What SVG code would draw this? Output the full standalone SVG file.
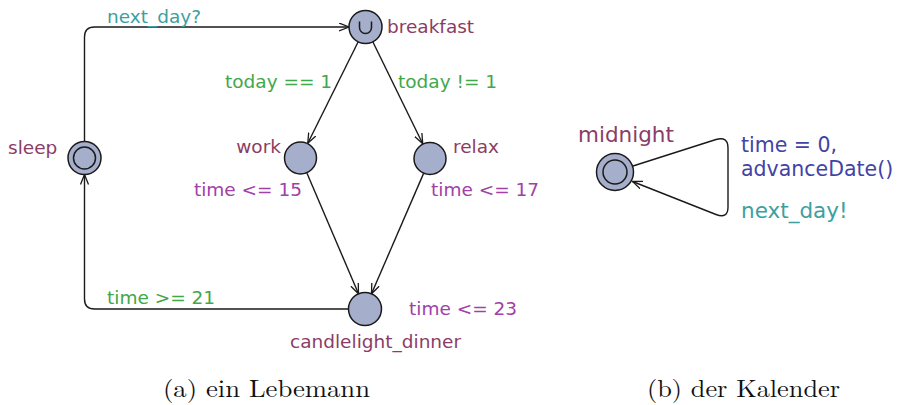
<svg xmlns="http://www.w3.org/2000/svg" width="903" height="405" viewBox="0 0 903 405">
<style>
.loc{fill:#a5aecb;stroke:#1a1a1a;stroke-width:1.5}
.inner{fill:none;stroke:#1a1a1a;stroke-width:1.5}
.edge{fill:none;stroke:#1a1a1a;stroke-width:1.4}
text{font-family:"DejaVu Sans",sans-serif;font-size:18.5px}
.name{fill:#8b3c66}
.guard{fill:#40a848}
.inv{fill:#a040a8}
.sync{fill:#3da0a0}
.upd{fill:#4343a6}
.big{font-size:21.5px}
.upd.big{font-size:20.5px}
.cap{font-family:"Latin Modern Roman","Liberation Serif",serif;font-size:24px;fill:#111}
</style>
<defs>
<marker id="arr" markerUnits="userSpaceOnUse" markerWidth="12" markerHeight="10" refX="10" refY="4.5" orient="auto">
<path d="M0,0.5 L10,4.5 L0,8.5" fill="none" stroke="#1a1a1a" stroke-width="1.3"/>
</marker>
</defs>
<g id="connectors">
<path class="edge" d="M84.5,141.5 L84.5,37 Q84.5,27 94.5,27 L349,27" marker-end="url(#arr)"/>
<path class="edge" d="M358.2,41.8 L307.8,143.2" marker-end="url(#arr)"/>
<path class="edge" d="M372.8,41.8 L422.7,143.7" marker-end="url(#arr)"/>
<path class="edge" d="M307,173.2 L358.5,293.8" marker-end="url(#arr)"/>
<path class="edge" d="M423.5,173.6 L371.5,293.8" marker-end="url(#arr)"/>
<path class="edge" d="M348.5,309 L94.5,309 Q84.5,309 84.5,299 L84.5,174.5" marker-end="url(#arr)"/>
<path class="edge" d="M633,166 L716,139.5 Q728,136 728,148 L728,207 Q728,219 716,214.5 L632.5,181.5" marker-end="url(#arr)"/>
<text class="sync" x="107" y="23">next_day?</text>
<text class="guard" x="225" y="88">today == 1</text>
<text class="guard" x="398" y="88">today != 1</text>
<text class="guard" x="107" y="304">time &gt;= 21</text>
<text class="upd big" x="741" y="152">time = 0,</text>
<text class="upd big" x="741" y="176">advanceDate()</text>
<text class="sync big" x="741" y="218">next_day!</text>
</g>
<g id="sleep">
<circle class="loc" cx="84.5" cy="158" r="16.5"/>
<circle class="inner" cx="84.5" cy="158" r="11"/>
<text class="name" x="8" y="154">sleep</text>
</g>
<g id="breakfast">
<circle class="loc" cx="365.5" cy="27" r="16.5"/>
<path class="inner" d="M359.5,21.5 L359.5,27.5 A6,6 0 0 0 371.5,27.5 L371.5,21.5"/>
<text class="name" x="387" y="33">breakfast</text>
</g>
<g id="work">
<circle class="loc" cx="300.5" cy="158" r="16"/>
<text class="name" x="281" y="153" text-anchor="end">work</text>
<text class="inv" x="302" y="196" text-anchor="end">time &lt;= 15</text>
</g>
<g id="relax">
<circle class="loc" cx="430" cy="158.5" r="16"/>
<text class="name" x="453" y="153">relax</text>
<text class="inv" x="431" y="196">time &lt;= 17</text>
</g>
<g id="candlelight_dinner">
<circle class="loc" cx="365" cy="309" r="16.5"/>
<text class="name" x="290" y="348">candlelight_dinner</text>
<text class="inv" x="409" y="315">time &lt;= 23</text>
</g>
<g id="midnight">
<circle class="loc" cx="615" cy="172" r="18.5"/>
<circle class="inner" cx="615" cy="172" r="12"/>
<text class="name big" x="578" y="142">midnight</text>
</g>
<text class="cap" x="163" y="397" textLength="207" lengthAdjust="spacingAndGlyphs">(a) ein Lebemann</text>
<text class="cap" x="647" y="397" textLength="193" lengthAdjust="spacingAndGlyphs">(b) der Kalender</text>
</svg>
